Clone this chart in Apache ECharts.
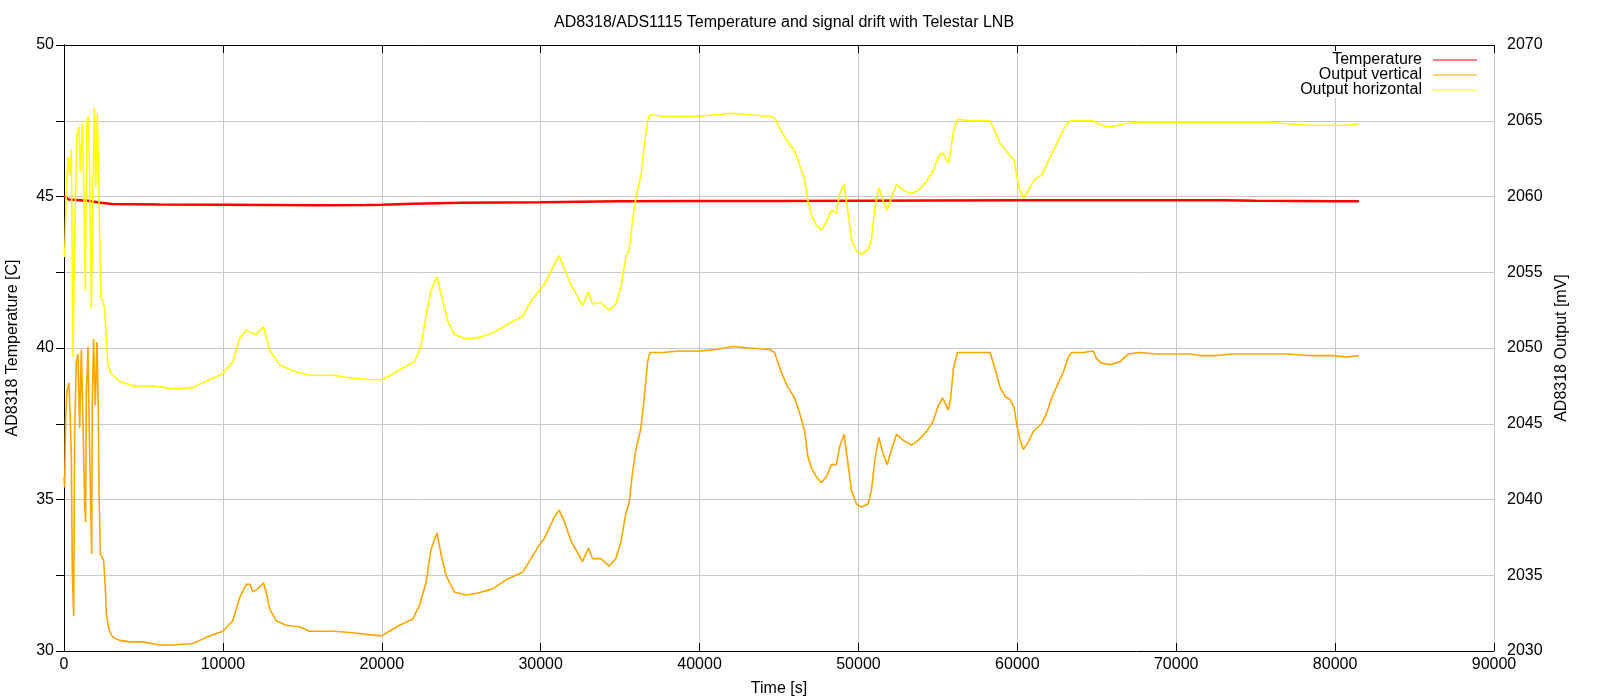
<!DOCTYPE html>
<html>
<head>
<meta charset="utf-8">
<script src="https://cdn.jsdelivr.net/npm/echarts@6/dist/echarts.min.js"></script>
<style>
html,body{margin:0;padding:0;background:#fff;}
#chart{width:1600px;height:700px;}
</style>
</head>
<body>
<div id="chart"></div>
<script>
const titleText = 'AD8318/ADS1115 Temperature and signal drift with Telestar LNB';
const seriesNames = ['Temperature', 'Output vertical', 'Output horizontal'];

const xMin = 0, xMax = 90000, xStep = 10000;
const tempMin = 30, tempMax = 50, tempStep = 5;
const mvMin = 2030, mvMax = 2070, mvStep = 5;

// Temperature [C] (left axis)
const tempTime  = [0, 300, 1500, 2200, 3000, 6000, 10000, 13000, 16000, 19000, 20000, 22000, 25000, 30000, 35000, 40000, 45000, 50000, 55000, 60000, 65000, 70000, 73000, 75000, 80000, 81500];
const tempValue = [45.02, 44.9, 44.86, 44.8, 44.75, 44.74, 44.73, 44.72, 44.71, 44.72, 44.73, 44.76, 44.79, 44.81, 44.84, 44.85, 44.85, 44.86, 44.87, 44.88, 44.88, 44.88, 44.88, 44.86, 44.84, 44.84];

// Output vertical [mV] (right axis)
const vertTime = [0, 42, 105, 189, 314, 461, 524, 608, 671, 776, 880, 985, 1090, 1195, 1300, 1362, 1404, 1509, 1572, 1656, 1740, 1782, 1865, 1970, 2075, 2159, 2201, 2285, 2390, 2494, 2599, 2662, 2767, 2872, 3081, 3500, 4129, 4968, 6016, 6854, 8112, 8950, 9998, 10627, 11046, 11465, 11717, 11884, 12199, 12555, 12765, 12932, 13352, 13980, 14819, 15448, 16915, 18173, 19430, 19996, 20478, 21107, 21945, 22364, 22784, 23098, 23475, 23727, 24041, 24565, 25299, 25928, 26976, 27814, 28862, 29281, 29910, 30210, 30526, 30841, 31157, 31472, 31893, 32208, 32629, 33007, 33260, 33785, 34311, 34732, 35047, 35363, 35573, 35783, 35994, 36309, 36519, 36730, 36877, 37676, 38727, 40031, 41041, 42092, 43144, 44406, 44721, 45142, 45562, 45983, 46298, 46614, 46824, 47034, 47350, 47665, 47981, 48296, 48612, 48822, 49095, 49348, 49558, 49873, 50189, 50609, 50820, 51030, 51282, 51556, 51808, 52082, 52397, 52818, 53343, 53764, 54290, 54710, 55026, 55299, 55657, 55804, 55972, 56224, 57024, 58285, 58601, 58916, 59232, 59539, 59790, 59958, 60126, 60377, 60692, 61006, 61320, 61530, 61844, 62159, 62578, 62892, 63207, 63416, 64150, 64779, 64988, 65303, 65827, 66456, 66770, 66980, 67713, 68761, 69998, 70857, 71486, 72534, 73582, 75678, 76936, 78403, 79870, 80708, 81505];
const vertValue = [2041.5, 2040.8, 2045.5, 2047.2, 2047.7, 2043, 2035.2, 2032.3, 2044.3, 2049.1, 2049.6, 2044.7, 2049.9, 2045.2, 2039.6, 2038.5, 2047, 2050.1, 2045.7, 2040.8, 2036.4, 2046.5, 2050.6, 2046.2, 2050.4, 2046, 2040.8, 2036.4, 2036.2, 2036, 2034.2, 2032.5, 2031.8, 2031.3, 2030.9, 2030.7, 2030.6, 2030.6, 2030.4, 2030.4, 2030.5, 2030.9, 2031.3, 2032.0, 2033.5, 2034.4, 2034.4, 2033.9, 2034.1, 2034.5, 2033.7, 2032.8, 2032, 2031.7, 2031.6, 2031.3, 2031.3, 2031.2, 2031.05, 2031, 2031.3, 2031.7, 2032.1, 2033, 2034.5, 2036.7, 2037.8, 2036.4, 2035, 2033.9, 2033.7, 2033.8, 2034.1, 2034.7, 2035.2, 2035.9, 2037, 2037.4, 2038.1, 2038.8, 2039.3, 2038.6, 2037.3, 2036.7, 2035.9, 2036.8, 2036.1, 2036.1, 2035.6, 2036.1, 2037.2, 2039.1, 2039.8, 2041.8, 2043.3, 2044.7, 2046.7, 2049.1, 2049.7, 2049.7, 2049.8, 2049.8, 2049.9, 2050.1, 2050, 2049.9, 2049.7, 2048.4, 2047.4, 2046.7, 2045.7, 2044.5, 2042.8, 2042.1, 2041.5, 2041.1, 2041.5, 2042.3, 2042.3, 2043.5, 2044.3, 2042.3, 2040.6, 2039.7, 2039.5, 2039.7, 2040.6, 2042.6, 2044.1, 2043, 2042.3, 2043.3, 2044.3, 2043.9, 2043.6, 2043.9, 2044.5, 2045.2, 2046.2, 2046.7, 2045.9, 2046.7, 2048.6, 2049.7, 2049.7, 2049.7, 2048.6, 2047.4, 2046.8, 2046.6, 2046.1, 2045, 2044.1, 2043.3, 2043.8, 2044.5, 2044.8, 2045, 2045.7, 2046.7, 2047.7, 2048.4, 2049.4, 2049.7, 2049.7, 2049.8, 2049.3, 2049, 2048.9, 2049.1, 2049.4, 2049.6, 2049.7, 2049.6, 2049.6, 2049.6, 2049.5, 2049.5, 2049.6, 2049.6, 2049.6, 2049.5, 2049.5, 2049.4, 2049.5];

// Output horizontal [mV] (right axis)
const horTime = [0, 42, 147, 252, 356, 461, 566, 671, 817, 943, 1027, 1153, 1237, 1341, 1446, 1530, 1614, 1719, 1824, 1907, 1991, 2096, 2159, 2243, 2327, 2452, 2557, 2662, 2767, 2976, 3500, 4339, 5596, 6854, 8112, 8950, 9998, 10627, 11046, 11465, 11780, 12094, 12555, 12932, 13561, 14400, 15448, 16915, 18173, 19430, 19996, 20688, 21526, 22050, 22469, 22784, 23098, 23475, 23831, 24146, 24565, 25299, 26138, 26976, 27814, 28862, 29281, 29910, 30210, 30526, 30841, 31157, 31472, 31893, 32208, 32629, 33007, 33260, 33785, 34311, 34732, 35047, 35363, 35573, 35783, 35994, 36309, 36519, 36730, 36877, 37676, 38727, 40031, 41041, 42092, 43144, 44406, 44721, 45142, 45562, 45983, 46298, 46614, 46824, 47034, 47350, 47665, 47981, 48296, 48612, 48822, 49095, 49348, 49558, 49873, 50189, 50609, 50820, 51030, 51282, 51556, 51808, 52082, 52397, 52818, 53343, 53764, 54290, 54710, 55026, 55299, 55657, 55804, 55972, 56224, 57024, 58285, 58601, 58916, 59232, 59539, 59790, 59958, 60126, 60377, 60692, 61006, 61320, 61530, 61844, 62159, 62578, 62892, 63207, 63416, 64150, 64779, 65093, 65617, 66037, 66770, 67713, 69998, 71486, 73582, 75678, 76936, 78403, 79870, 80708, 81505];
const horValue = [2056.5, 2056, 2060.4, 2062.6, 2061.4, 2063.1, 2049.4, 2057.5, 2064.1, 2064.6, 2061.6, 2064.8, 2060.9, 2053.8, 2064.8, 2065.3, 2061.6, 2052.6, 2060.4, 2065.8, 2060.6, 2065.5, 2062.1, 2057.5, 2053.3, 2053.1, 2052.6, 2050.6, 2048.9, 2048.3, 2047.8, 2047.5, 2047.5, 2047.3, 2047.4, 2047.8, 2048.3, 2049.1, 2050.6, 2051.2, 2051, 2050.9, 2051.4, 2049.9, 2048.9, 2048.5, 2048.2, 2048.2, 2048, 2047.9, 2047.9, 2048.3, 2048.8, 2049.1, 2050.1, 2052.1, 2053.8, 2054.7, 2053.1, 2051.8, 2050.9, 2050.6, 2050.7, 2051, 2051.5, 2052.1, 2052.9, 2053.8, 2054.2, 2054.8, 2055.5, 2056.1, 2055.3, 2054.2, 2053.6, 2052.8, 2053.7, 2052.9, 2053, 2052.5, 2052.9, 2054, 2056, 2056.5, 2058.4, 2059.9, 2061.4, 2063.3, 2065, 2065.4, 2065.3, 2065.3, 2065.3, 2065.4, 2065.5, 2065.4, 2065.3, 2065.2, 2064.3, 2063.6, 2063, 2062.1, 2061.1, 2059.7, 2058.8, 2058.1, 2057.8, 2058.3, 2059.1, 2058.9, 2060.2, 2060.8, 2058.9, 2057.2, 2056.4, 2056.2, 2056.5, 2057.2, 2059.2, 2060.6, 2059.7, 2059.1, 2059.9, 2060.8, 2060.4, 2060.2, 2060.4, 2061, 2061.7, 2062.6, 2062.9, 2062.2, 2063, 2064.3, 2065.1, 2065, 2065, 2064.3, 2063.5, 2063.1, 2062.7, 2062.4, 2061.4, 2060.5, 2059.9, 2060.4, 2061, 2061.3, 2061.4, 2062.1, 2062.8, 2063.7, 2064.4, 2064.9, 2065, 2065, 2065, 2064.8, 2064.6, 2064.6, 2064.8, 2064.9, 2064.9, 2064.9, 2064.9, 2064.9, 2064.8, 2064.7, 2064.7, 2064.7, 2064.8];

function zip(t, v) { return t.map((x, i) => [x, v[i]]); }
const plain = v => String(v);

const FONT = 'Liberation Sans';
const txt = { fontFamily: FONT, fontSize: 16, color: '#000' };
const gridColor = '#c8c8c8';

const chart = echarts.init(document.getElementById('chart'), null, { renderer: 'canvas' });
chart.setOption({
  animation: false,
  backgroundColor: '#fff',
  textStyle: { fontFamily: FONT },
  title: {
    text: titleText,
    left: 779, top: 10, textAlign: 'center',
    textStyle: { fontFamily: FONT, fontSize: 16, fontWeight: 'normal', color: '#000' }
  },
  legend: {
    data: seriesNames,
    orient: 'vertical',
    align: 'right',
    right: 119, top: 51,
    padding: [1, 4, 0, 4],
    itemGap: -1,
    itemWidth: 44, itemHeight: 1,
    icon: 'rect',
    backgroundColor: '#fff',
    textStyle: { fontFamily: FONT, fontSize: 16, color: '#000', lineHeight: 14, padding: [0, 6, 0, 0] }
  },
  grid: { left: 64, right: 106, top: 45, bottom: 49, containLabel: false, outerBoundsMode: 'none' },
  xAxis: [
    {
      type: 'value', min: xMin, max: xMax, interval: xStep, position: 'bottom',
      name: 'Time [s]', nameLocation: 'middle', nameGap: 30, nameTextStyle: txt,
      axisLine: { show: true, lineStyle: { color: '#000', width: 1 } },
      axisTick: { show: true, inside: true, length: 8, lineStyle: { color: '#000' } },
      axisLabel: { ...txt, margin: 6, formatter: plain },
      splitLine: { show: true, lineStyle: { color: gridColor, width: 1 } }
    },
    {
      type: 'value', min: xMin, max: xMax, interval: xStep, position: 'top',
      axisLine: { show: true, lineStyle: { color: '#000', width: 1 } },
      axisTick: { show: true, inside: true, length: 8, lineStyle: { color: '#000' } },
      axisLabel: { show: false },
      splitLine: { show: false }
    }
  ],
  yAxis: [
    {
      type: 'value', min: tempMin, max: tempMax, interval: tempStep, position: 'left',
      name: 'AD8318 Temperature [C]', nameLocation: 'middle', nameGap: 43, nameRotate: 90, nameTextStyle: txt,
      axisLine: { show: true, lineStyle: { color: '#000', width: 1 } },
      axisTick: { show: false },
      axisLabel: { ...txt, margin: 10, formatter: plain },
      splitLine: { show: false }
    },
    {
      type: 'value', min: mvMin, max: mvMax, interval: mvStep, position: 'right',
      name: 'AD8318 Output [mV]', nameLocation: 'middle', nameGap: 60, nameRotate: 90, nameTextStyle: txt,
      axisLine: { show: true, lineStyle: { color: '#000', width: 1 } },
      axisTick: { show: true, inside: true, length: 8, lineStyle: { color: '#000' } },
      axisLabel: { ...txt, margin: 13, formatter: plain },
      splitLine: { show: true, lineStyle: { color: gridColor, width: 1 } }
    }
  ],
  series: [
    {
      name: seriesNames[0], type: 'line', xAxisIndex: 0, yAxisIndex: 0,
      data: zip(tempTime, tempValue), showSymbol: false, symbol: 'none',
      lineStyle: { color: '#ff0000', width: 2.5 }, itemStyle: { color: '#ff0000' }
    },
    {
      name: seriesNames[1], type: 'line', xAxisIndex: 0, yAxisIndex: 1,
      data: zip(vertTime, vertValue), showSymbol: false, symbol: 'none',
      lineStyle: { color: '#ffa500', width: 1.6 }, itemStyle: { color: '#ffa500' }
    },
    {
      name: seriesNames[2], type: 'line', xAxisIndex: 0, yAxisIndex: 1,
      data: zip(horTime, horValue), showSymbol: false, symbol: 'none',
      lineStyle: { color: '#ffff00', width: 1.6 }, itemStyle: { color: '#ffff00' }
    }
  ]
});
</script>
</body>
</html>
